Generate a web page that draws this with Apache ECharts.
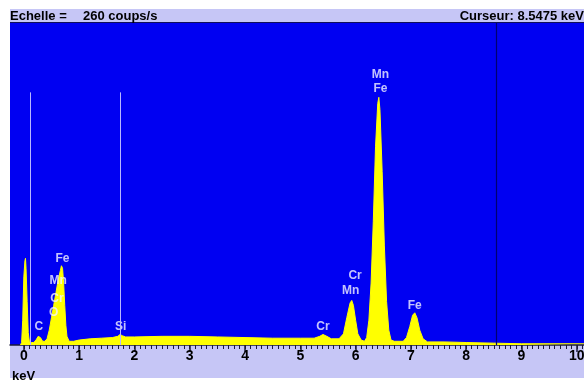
<!DOCTYPE html>
<html>
<head>
<meta charset="utf-8">
<script src="https://cdn.jsdelivr.net/npm/echarts@6/dist/echarts.min.js"></script>
<style>
  html, body { margin: 0; padding: 0; background: #fff; overflow: hidden; }
  #chart { width: 584px; height: 387px; }
</style>
</head>
<body>
<div id="chart"></div>
<script>
// spectrum: energy (keV) and counts (coups/s)
const energyKeV = [
  -0.06, -0.04, -0.02, 0.00, 0.02, 0.03, 0.04, 0.06, 0.08, 0.10,
  0.14, 0.18, 0.22, 0.26, 0.28, 0.30, 0.34, 0.38, 0.42, 0.46,
  0.50, 0.54, 0.58, 0.62, 0.66, 0.68, 0.70, 0.72, 0.74, 0.76,
  0.78, 0.82, 0.90, 1.00, 1.20, 1.40, 1.60, 1.70, 1.74, 1.78,
  1.84, 2.00, 2.50, 3.00, 3.50, 4.00, 4.50, 5.00, 5.25, 5.35,
  5.41, 5.48, 5.56, 5.70, 5.78, 5.84, 5.90, 5.93, 5.96, 6.00,
  6.04, 6.10, 6.16, 6.20, 6.24, 6.28, 6.32, 6.36, 6.40, 6.42,
  6.44, 6.48, 6.52, 6.56, 6.60, 6.64, 6.70, 6.86, 6.92, 6.98,
  7.03, 7.07, 7.11, 7.16, 7.22, 7.30, 7.60, 8.00, 8.50, 9.00,
  10.13
]
const countsPerSec = [
  0, 2, 20, 55, 68, 70, 62, 35, 10, 3,
  2, 2, 4, 7, 7.5, 6, 3, 3, 5, 12,
  22, 32, 42, 52, 60, 64, 62, 50, 32, 16,
  7, 3, 3, 4, 5, 5.5, 6, 7, 8.5, 7.5,
  6.5, 6.5, 7, 7, 6.5, 6, 5.5, 5.5, 5.5, 7,
  8.5, 7, 5, 5, 9, 22, 34, 36, 32, 20,
  9, 4, 3, 6, 20, 50, 100, 160, 195, 200,
  190, 140, 80, 35, 12, 4, 3, 3, 6, 15,
  24, 26, 22, 12, 5, 2.5, 2.5, 2, 1.5, 1,
  1
]

// peak identification labels
const peakText = ['C', 'O', 'Cr', 'Mn', 'Fe', 'Si', 'Cr', 'Mn', 'Cr', 'Fe', 'Mn', 'Fe']
const peakKeV = [0.27, 0.54, 0.60, 0.62, 0.70, 1.75, 5.41, 5.91, 5.99, 6.45, 6.45, 7.07]
const peakLevel = [14.5, 26, 37, 52, 70, 15, 14.5, 44, 56, 207, 218, 32]

const majorTicks = [0, 1, 2, 3, 4, 5, 6, 7, 8, 9, 10]
const markerKeV = [0.11, 1.75]
const markerTop = 204
const cursorKeV = 8.5475
const fullScale = 260

const minorTicks = []
for (let i = 0; i <= 101; i++) minorTicks.push(+(i / 10).toFixed(1))

const chart = echarts.init(document.getElementById('chart'))

const font = 'Liberation Sans, Arial, sans-serif'
const lavender = '#c6c6f6'

chart.setOption({
  animation: false,
  backgroundColor: '#ffffff',
  grid: {
    left: 10, right: 0, top: 23, bottom: 42,
    outerBoundsMode: 'none',
    show: true, backgroundColor: '#0000f2', borderWidth: 0
  },
  graphic: [
    { type: 'rect', shape: { x: 10, y: 9, width: 574, height: 14 }, style: { fill: lavender }, z: 0 },
    { type: 'rect', shape: { x: 10, y: 22, width: 574, height: 1 }, style: { fill: '#10105a' }, z: 5 },
    { type: 'rect', shape: { x: 10, y: 345, width: 574, height: 33 }, style: { fill: lavender }, z: 0 },
    { type: 'text', x: 10, y: 16, style: { text: 'Echelle =', font: 'bold 13px ' + font, fill: '#000', textVerticalAlign: 'middle' }, z: 10 },
    { type: 'text', x: 83, y: 16, style: { text: fullScale + ' coups/s', font: 'bold 13px ' + font, fill: '#000', textVerticalAlign: 'middle' }, z: 10 },
    { type: 'text', x: 584, y: 16, style: { text: 'Curseur: ' + cursorKeV + ' keV', font: 'bold 13px ' + font, fill: '#000', textAlign: 'right', textVerticalAlign: 'middle' }, z: 10 },
    { type: 'text', x: 12, y: 376, style: { text: 'keV', font: 'bold 13px ' + font, fill: '#000', textVerticalAlign: 'middle' }, z: 10 }
  ],
  xAxis: [
    {
      type: 'value', min: -0.25, max: 10.13, position: 'bottom',
      axisLine: { show: true, onZero: false, lineStyle: { color: '#1a1a3a', width: 1.5 } },
      axisTick: { show: true, customValues: majorTicks, length: 7, lineStyle: { color: '#1a1a3a', width: 1.5 } },
      axisLabel: {
        customValues: majorTicks, color: '#000', fontWeight: 'bold',
        fontSize: 14, fontFamily: font, margin: 4
      },
      splitLine: { show: false }
    },
    {
      type: 'value', min: -0.25, max: 10.13, position: 'bottom',
      axisLine: { show: false, onZero: false },
      axisTick: { show: true, customValues: minorTicks, length: 4, lineStyle: { color: '#1a1a3a', width: 1 } },
      axisLabel: { show: false },
      splitLine: { show: false }
    }
  ],
  yAxis: {
    type: 'value', min: 0, max: fullScale, show: false,
    splitLine: { show: false }
  },
  series: [
    {
      type: 'line',
      xAxisIndex: 0,
      data: energyKeV.map((e, i) => [e, countsPerSec[i]]),
      symbol: 'none',
      lineStyle: { color: '#ffff00', width: 1 },
      areaStyle: { color: '#ffff00', opacity: 1 },
      z: 2,
      markLine: {
        silent: true,
        symbol: ['none', 'none'],
        label: { show: false },
        data: [
          ...markerKeV.map(k => [
            { coord: [k, 0], lineStyle: { color: '#b8b8ff', width: 1, type: 'solid' } },
            { coord: [k, markerTop] }
          ]),
          [
            { coord: [cursorKeV, 0], lineStyle: { color: '#000070', width: 1.2, type: 'solid' } },
            { coord: [cursorKeV, fullScale] }
          ]
        ]
      }
    },
    {
      type: 'scatter',
      xAxisIndex: 0,
      symbolSize: 1,
      itemStyle: { color: 'rgba(0,0,0,0)' },
      z: 4,
      data: peakKeV.map((k, i) => ({ name: peakText[i], value: [k, peakLevel[i]] })),
      label: {
        show: true, position: 'inside', formatter: '{b}',
        color: '#f4f4ff', fontWeight: 'bold', fontSize: 12, fontFamily: font
      }
    }
  ]
})
</script>
</body>
</html>
